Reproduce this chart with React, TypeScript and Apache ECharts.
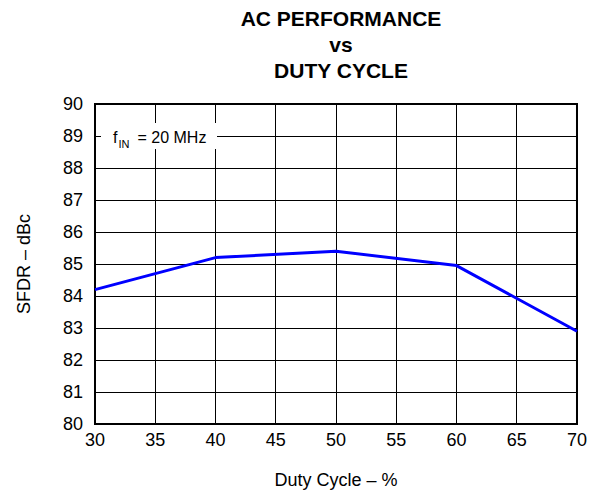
import React, { useEffect, useRef } from "react";
import * as echarts from "echarts";

const dutyCycle = [30, 40, 50, 60, 70];
const sfdr = [84.2, 85.2, 85.4, 84.95, 82.9];
const titleLines = ["AC PERFORMANCE", "vs", "DUTY CYCLE"];
const xAxisName = "Duty Cycle \u2013 %";
const yAxisName = "SFDR \u2013 dBc";

const FONT = "'Liberation Sans', Arial, Helvetica, sans-serif";

export default function App() {
  const ref = useRef<HTMLDivElement>(null);
  useEffect(() => {
    if (!ref.current) return;
    const chart = echarts.init(ref.current, undefined, { renderer: "svg" });
    chart.setOption({
      animation: false,
      backgroundColor: "#ffffff",
      title: {
        text: titleLines.join("\n"),
        left: 336,
        top: 0,
        textAlign: "center",
        textStyle: {
          fontFamily: FONT,
          fontSize: 21,
          fontWeight: "bold",
          color: "#000",
          lineHeight: 26,
        },
      },
      grid: {
        left: 95,
        right: 13,
        top: 104,
        bottom: 70,
        show: true,
        borderColor: "#000",
        borderWidth: 2,
        backgroundColor: "transparent",
      },
      xAxis: {
        type: "value",
        min: 30,
        max: 70,
        interval: 5,
        name: xAxisName,
        nameLocation: "middle",
        nameGap: 47,
        nameTextStyle: { fontFamily: FONT, fontSize: 18, color: "#000" },
        axisLine: { show: false },
        axisTick: { show: false },
        axisLabel: { fontFamily: FONT, fontSize: 18, color: "#000", margin: 7 },
        splitLine: { show: true, lineStyle: { color: "#000", width: 1 } },
      },
      yAxis: {
        type: "value",
        min: 80,
        max: 90,
        interval: 1,
        name: yAxisName,
        nameLocation: "middle",
        nameGap: 62,
        nameTextStyle: { fontFamily: FONT, fontSize: 18, color: "#000" },
        axisLine: { show: false },
        axisTick: { show: false },
        axisLabel: { fontFamily: FONT, fontSize: 18, color: "#000", margin: 12 },
        splitLine: { show: true, lineStyle: { color: "#000", width: 1 } },
      },
      series: [
        {
          type: "line",
          data: dutyCycle.map((d, i) => [d, sfdr[i]]),
          showSymbol: false,
          lineStyle: { color: "#0000ff", width: 3 },
          z: 3,
        },
      ],
      graphic: [
        {
          type: "rect",
          shape: { x: 101, y: 123, width: 116, height: 26 },
          style: { fill: "#ffffff" },
          z: 10,
        },
        {
          type: "text",
          x: 113,
          y: 137.5,
          z: 11,
          style: { text: "f", fontFamily: FONT, fontSize: 16, fill: "#000", verticalAlign: "middle" },
        },
        {
          type: "text",
          x: 118.5,
          y: 143.5,
          z: 11,
          style: { text: "IN", fontFamily: FONT, fontSize: 11, fill: "#000", verticalAlign: "middle" },
        },
        {
          type: "text",
          x: 137.5,
          y: 137.5,
          z: 11,
          style: { text: "= 20 MHz", fontFamily: FONT, fontSize: 16, fill: "#000", verticalAlign: "middle" },
        },
      ],
    });
    return () => chart.dispose();
  }, []);
  return (
    <div
      ref={ref}
      style={{ position: "absolute", left: 0, top: 0, width: 590, height: 494 }}
    />
  );
}
